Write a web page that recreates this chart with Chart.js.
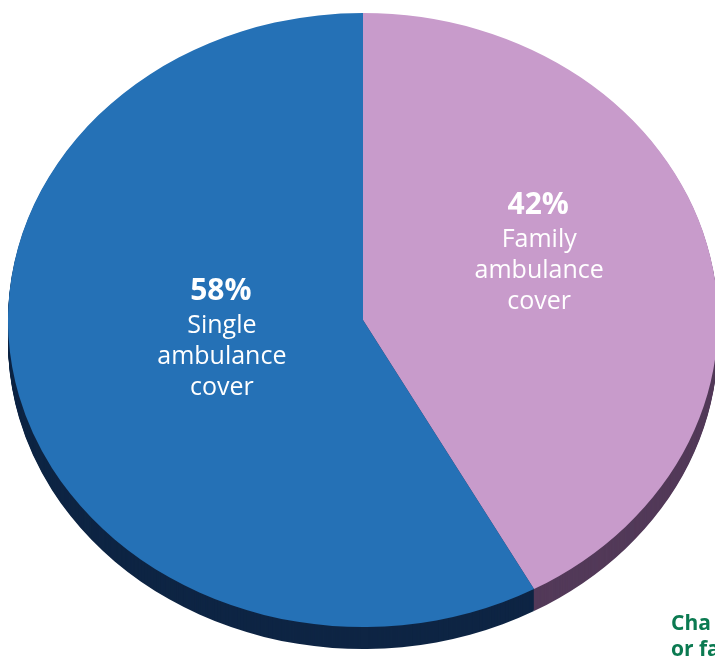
<!DOCTYPE html>
<html>
<head>
<meta charset="utf-8">
<script src="https://cdn.jsdelivr.net/npm/chart.js@4.4.1/dist/chart.umd.min.js"></script>
<style>
  html, body { margin: 0; padding: 0; background: #fff; overflow: hidden; width: 715px; height: 658px; }
  .wrap { position: absolute; left: 0; top: 0; width: 726px; height: 710px; }
  .note { position: absolute; left: 671px; top: 609px; font-family: "Open Sans", sans-serif; font-weight: bold;
          font-size: 21px; line-height: 26px; color: #0b7a51; white-space: nowrap; }
</style>
</head>
<body>
<div class="wrap"><canvas id="pie"></canvas></div>
<div class="note">Cha<br>or fa</div>
<script>
// data
const categories = ['Family ambulance cover', 'Single ambulance cover'];
const shares = [42, 58];
const labelLines = [['Family', 'ambulance', 'cover'], ['Single', 'ambulance', 'cover']];
const topColors = ['#c89bcb', '#2571b6'];
const sideColors = ['#533a59', '#0e2544'];

// squash the pie into an ellipse (looks tilted)
function applyTilt(ctx, cx, cy, o) {
    ctx.translate(cx, o.centerY);
    ctx.scale(1, o.squash);
    ctx.translate(-cx, -cy);
}

const tilt = {
    id: 'tilt',
    beforeDatasetsDraw(chart, args, o) {
        const ctx = chart.ctx;
        const meta = chart.getDatasetMeta(0);
        const cx = meta.data[0].x, cy = meta.data[0].y;
        // the side / depth of the pie
        for (let d = o.depth; d > 0; d--) {
            ctx.save();
            ctx.translate(0, d);
            applyTilt(ctx, cx, cy, o);
            meta.data.forEach((arc, i) => {
                const keep = arc.options;
                arc.options = Object.assign({}, keep, { backgroundColor: sideColors[i], borderWidth: 0 });
                arc.draw(ctx);
                arc.options = keep;
            });
            ctx.restore();
        }
        ctx.save();
        applyTilt(ctx, cx, cy, o);
    },
    afterDatasetsDraw(chart) {
        chart.ctx.restore();
    },
    afterDraw(chart, args, o) {
        const ctx = chart.ctx;
        const meta = chart.getDatasetMeta(0);
        meta.data.forEach((arc, i) => {
            const mid = (arc.startAngle + arc.endAngle) / 2 + o.labelTurn[i] * Math.PI / 180;
            const r = arc.outerRadius * o.labelRadius[i];
            const x = arc.x + Math.cos(mid) * r;
            const y = o.centerY + Math.sin(mid) * r * o.squash;
            ctx.save();
            ctx.fillStyle = '#fff';
            ctx.textAlign = 'center';
            ctx.textBaseline = 'alphabetic';
            ctx.font = 'bold 30px "Open Sans", sans-serif';
            ctx.fillText(shares[i] + '%', x, y - 47);
            ctx.font = '500 25px "Open Sans", sans-serif';
            labelLines[i].forEach((t, j) => ctx.fillText(t, x + 1, y - 14 + j * 31));
            ctx.restore();
        });
    }
};

new Chart(document.getElementById('pie'), {
    type: 'pie',
    data: {
        labels: categories,
        datasets: [{
            data: shares,
            backgroundColor: topColors,
            borderWidth: 0
        }]
    },
    options: {
        responsive: true,
        maintainAspectRatio: false,
        animation: false,
        events: [],
        layout: { padding: 0 },
        plugins: {
            legend: { display: false },
            tooltip: { enabled: false },
            tilt: { centerY: 320, squash: 0.865, depth: 22, labelRadius: [0.53, 0.41], labelTurn: [-7, 2] }
        }
    },
    plugins: [tilt]
});
</script>
</body>
</html>
